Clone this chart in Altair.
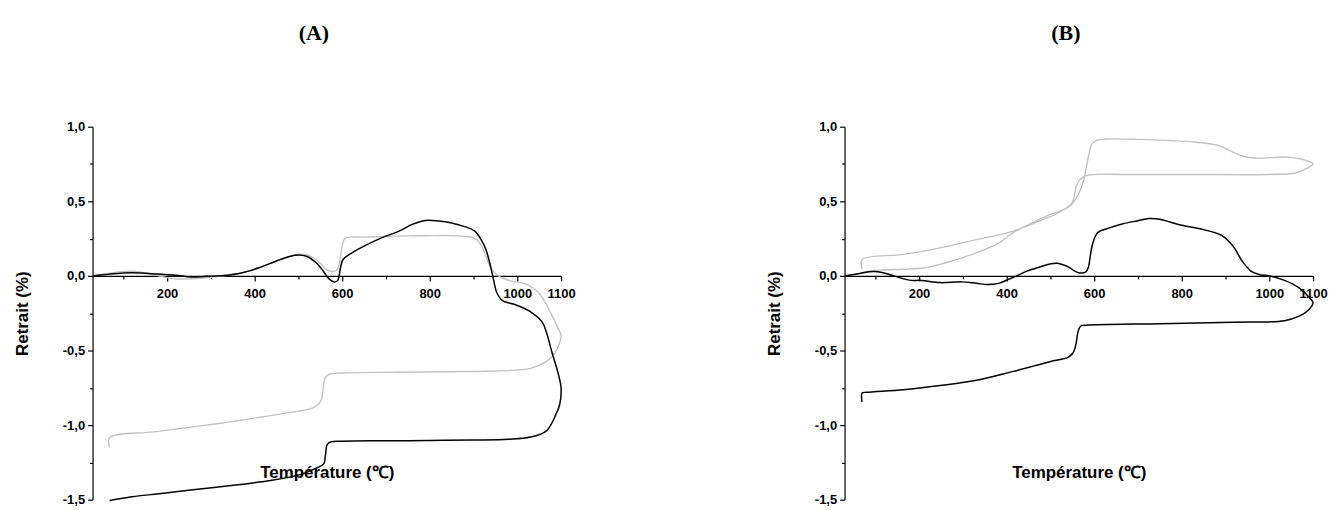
import altair as alt
import pandas as pd

# ---------------- Panel A ----------------
tA_noir = [30,60,100,140,180,220,255,290,330,370,410,450,480,500,520,540,555,570,582,590,
           596,602,620,650,690,730,760,790,820,850,880,903,918,928,936,944,953,966,993,1030,
           1057,1079,1093,1100,1097,1088,1066,1030,980,900,800,700,600,575,566,562,558,540,506,440,
           362,270,182,120,69]
rA_noir = [0,0.01,0.02,0.02,0.012,0.005,-0.008,-0.003,0.003,0.02,
           0.055,0.1,0.13,0.14,0.13,0.09,0.04,-0.02,-0.04,-0.03,
           0.05,0.11,0.15,0.2,0.255,0.30,0.345,0.372,0.368,0.355,
           0.33,0.30,0.24,0.18,0.1,0.0,-0.11,-0.166,-0.19,-0.24,
           -0.31,-0.51,-0.65,-0.75,-0.86,-0.93,-1.04,-1.08,-1.095,-1.1,
           -1.103,-1.105,-1.108,-1.112,-1.13,-1.2,-1.26,-1.29,-1.33,-1.37,
           -1.40,-1.43,-1.46,-1.48,-1.505]

tA_gris = [30,60,100,130,160,190,220,250,290,330,370,410,450,480,500,520,540,555,565,577,
           588,595,600,606,615,650,700,750,800,850,880,900,910,920,930,940,957,984,1020,1048,
           1075,1093,1100,1094,1085,1066,1030,948,840,723,620,570,561,556,551,533,470,407,340,272,
           170,69,69]
rA_gris = [0,0.015,0.03,0.03,0.015,-0.005,-0.02,-0.02,-0.012,0.0,
           0.02,0.055,0.1,0.13,0.145,0.14,0.11,0.07,0.04,0.03,
           0.04,0.1,0.2,0.25,0.26,0.26,0.265,0.268,0.27,0.27,
           0.265,0.255,0.235,0.19,0.12,0.05,0.0,-0.033,-0.055,-0.11,
           -0.24,-0.35,-0.40,-0.47,-0.52,-0.575,-0.62,-0.637,-0.642,-0.646,
           -0.65,-0.66,-0.686,-0.77,-0.84,-0.885,-0.92,-0.95,-0.98,-1.007,
           -1.045,-1.084,-1.15]

# ---------------- Panel B ----------------
tB_noir = [30,60,97,120,143,165,181,206,248,298,331,357,382,407,423,445,465,499,516,541,
           557,566,574,582,587,592,597,608,633,666,700,725,750,775,800,850,892,917,938,959,
           976,1001,1035,1068,1093,1100,1089,1068,1035,917,750,583,570,566,562,559,553,541,499,415,
           331,248,164,80,70,70]
rB_noir = [0,0.015,0.03,0.02,0.0,-0.02,-0.03,-0.03,-0.045,-0.04,
           -0.05,-0.058,-0.05,-0.02,0.0,0.03,0.05,0.08,0.085,0.06,
           0.03,0.02,0.02,0.03,0.06,0.15,0.22,0.29,0.32,0.35,
           0.37,0.385,0.38,0.36,0.34,0.31,0.27,0.2,0.1,0.03,
           0.01,0.0,-0.03,-0.08,-0.15,-0.18,-0.23,-0.27,-0.3,-0.31,
           -0.32,-0.33,-0.335,-0.35,-0.39,-0.45,-0.51,-0.545,-0.575,-0.64,
           -0.70,-0.735,-0.763,-0.78,-0.785,-0.845]

tB_gris = [30,60,80,120,164,214,264,331,382,415,457,499,541,557,574,587,595,608,633,700,
           750,834,884,917,943,968,1043,1077,1100,1085,1060,1001,800,666,599,578,566,559,549,516,
           482,415,331,248,164,70,70]
rB_gris = [0,0.012,0.03,0.04,0.045,0.055,0.09,0.155,0.22,0.29,
           0.354,0.41,0.46,0.51,0.62,0.8,0.885,0.91,0.918,0.915,
           0.91,0.896,0.874,0.83,0.8,0.79,0.796,0.78,0.75,0.72,
           0.69,0.68,0.68,0.68,0.68,0.668,0.64,0.6,0.487,0.42,
           0.376,0.3,0.243,0.188,0.144,0.11,0.05]

x_ticks = [100, 200, 300, 400, 500, 600, 700, 800, 900, 1000, 1100]
y_ticks = [-1.5, -1.25, -1.0, -0.75, -0.5, -0.25, 0.0, 0.25, 0.5, 0.75, 1.0]

W, H = 471, 375
FONT = "Liberation Sans"


def frame(t, r):
    return pd.DataFrame({"T": t, "R": r, "idx": list(range(len(t)))})


def make_axes():
    x_axis = alt.Axis(
        values=x_ticks, format="d",
        labelExpr="(datum.value % 200 == 0 || datum.value == 1100) ? datum.label : ''",
        tickSize={"condition": {"test": "datum.value % 200 == 0 || datum.value == 1100", "value": 5}, "value": 3},
        orient="bottom", offset=-H * 1.5 / 2.5, grid=False,
        domainColor="black", tickColor="black", domainWidth=1.2, tickWidth=1.2,
        labelFont=FONT, labelFontWeight="bold", labelFontSize=13, labelColor="black",
        labelPadding=7, labelFlush=False, labelOverlap=False,
        title="Température (℃)", titleFont=FONT, titleFontWeight="bold",
        titleFontSize=17, titleColor="black", titlePadding=165,
    )
    y_axis = alt.Axis(
        values=y_ticks,
        labelExpr="datum.value % 0.5 == 0 ? (datum.value < 0 ? '-' : '') + replace(format(abs(datum.value), '.1f'), '.', ',') : ''",
        tickSize={"condition": {"test": "datum.value % 0.5 == 0", "value": 5}, "value": 3},
        grid=False, domainColor="black", tickColor="black", domainWidth=1.2, tickWidth=1.2,
        labelFont=FONT, labelFontWeight="bold", labelFontSize=13, labelColor="black",
        labelPadding=3, labelOverlap=False,
        title="Retrait (%)", titleFont=FONT, titleFontWeight="bold",
        titleFontSize=17, titleColor="black", titlePadding=31,
    )
    return x_axis, y_axis


def panel(t_noir, r_noir, t_gris, r_gris, label):
    x_axis, y_axis = make_axes()
    xs = alt.Scale(domain=[30, 1100], nice=False, zero=False)
    ys = alt.Scale(domain=[-1.5, 1.0], nice=False, zero=False)

    gris = alt.Chart(frame(t_gris, r_gris)).mark_line(
        interpolate="catmull-rom", color="#c2c2c2", strokeWidth=1.4
    ).encode(
        x=alt.X("T:Q", scale=xs, axis=x_axis),
        y=alt.Y("R:Q", scale=ys, axis=y_axis),
        order="idx:Q",
    )
    noir = alt.Chart(frame(t_noir, r_noir)).mark_line(
        interpolate="catmull-rom", color="#000000", strokeWidth=1.5
    ).encode(
        x=alt.X("T:Q", scale=xs, axis=x_axis),
        y=alt.Y("R:Q", scale=ys, axis=y_axis),
        order="idx:Q",
    )
    return alt.layer(gris, noir).properties(
        width=W, height=H,
        title=alt.TitleParams(label, font="Liberation Serif", fontSize=22,
                              fontWeight="bold", color="black", anchor="middle",
                              dx=-13, offset=76),
    )


chart = alt.hconcat(
    panel(tA_noir, rA_noir, tA_gris, rA_gris, "(A)"),
    panel(tB_noir, rB_noir, tB_gris, rB_gris, "(B)"),
    spacing=190,
).properties(
    padding={"left": 5, "top": 13, "right": 0, "bottom": 0},
    background="white",
).configure_view(strokeWidth=0, stroke="transparent")

chart.save("out.html", embed_options={"renderer": "svg", "actions": False})
